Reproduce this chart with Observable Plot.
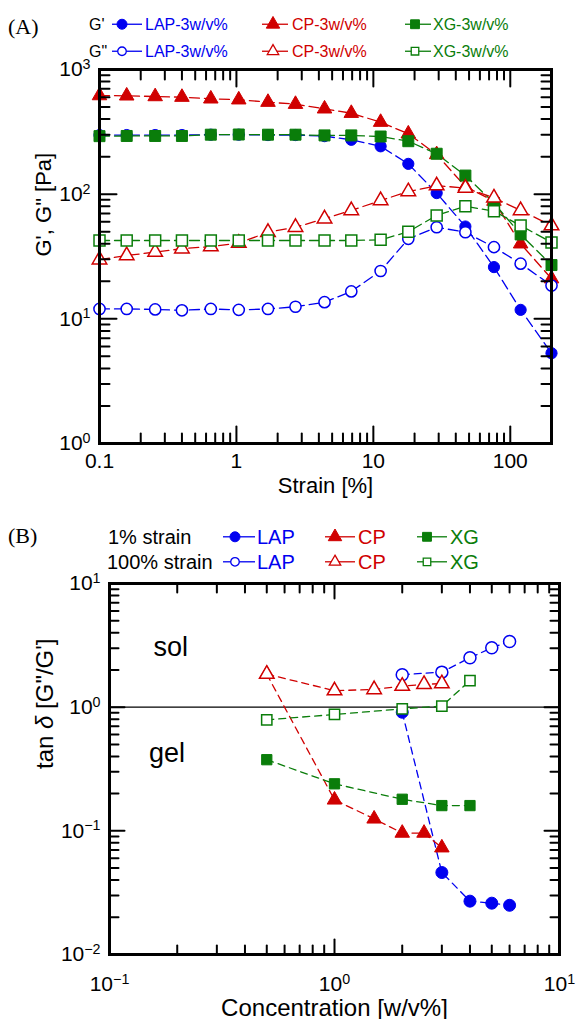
<!DOCTYPE html>
<html><head><meta charset="utf-8">
<script src="https://cdn.jsdelivr.net/npm/d3@7"></script>
<script src="https://cdn.jsdelivr.net/npm/@observablehq/plot@0.6"></script>
<style>
body{margin:0;background:#fff;}
#root{position:relative;width:576px;height:1019px;overflow:hidden;font-family:"Liberation Sans",Arial,sans-serif;background:#fff}
#root > *{position:absolute;left:0}
svg{overflow:visible}
</style></head><body><div id="root"></div>
<script>
// ---------- Panel A : strain sweep (3 w/v%) ----------
const strainA = [0.1,0.158,0.255,0.40,0.65,1.04,1.7,2.7,4.4,6.9,11.3,18,29,47,76,119,200];
const gpLAP  = [298,298,298,298,300,300,298,298,292,273,242,175,102,55,26,11.8,5.3];
const gppLAP = [12.0,12.0,11.9,11.7,12.0,11.8,12.0,12.5,13.6,16.6,24.2,43.8,54.3,49.5,37.6,27.7,18.5];
const gpCP   = [618,615,607,600,582,572,547,527,484,446,378,305,208,115,88,40,21];
const gppCP  = [29.8,32.2,34.3,36.5,38,40.5,49.5,54.3,63.5,74,89,105,117,112,93.5,74,56];
const gpXG   = [292,293,293,293,300,301,300,300,296,296,290,266,211,141,85,47.5,27];
const gppXG  = [42.5,42.5,42.5,42.5,42.5,42.5,42.5,42.5,42.5,42.5,43,50,67.5,80,73,56,41];

// ---------- Panel B : tan delta vs concentration ----------
const concLAP = [2,3,4,5,6];
const tan1LAP = [0.91,0.046,0.027,0.026,0.025];
const tan100LAP = [1.83,1.92,2.51,3.02,3.4];
const concCP = [0.5,1,1.5,2,2.5,3];
const tan1CP = [1.85,0.178,0.125,0.096,0.096,0.073];
const tan100CP = [1.85,1.36,1.39,1.48,1.53,1.55];
const concXG = [0.5,1,2,3,4];
const tan1XG = [0.376,0.24,0.18,0.16,0.16];
const tan100XG = [0.79,0.873,0.97,1.02,1.64];

const regionLabels = ["sol","gel"];
const regionX = [0.187,0.180];
const regionY = [3.07,0.42];

// ---------- ticks (labels "10^n" are typeset with a raised exponent) ----------
const strainTicks = [0.1,1,10,100];
const strainTickLabels = ["0.1","1","10","100"];
const modTicks = [1,10,100,1000];
const modTickLabels = ["10^0","10^1","10^2","10^3"];
const concTicks = [0.1,1,10];
const concTickLabels = ["10^-1","10^0","10^1"];
const tanTicks = [0.01,0.1,1,10];
const tanTickLabels = ["10^-2","10^-1","10^0","10^1"];

const seriesNames = ["LAP","CP","XG"];
const seriesColor = {LAP:"#0000f0", CP:"#d00000", XG:"#0a7d0a"};
const seriesSymbol = {LAP:"circle", CP:"triangle", XG:"square"};
const legendA = ["LAP-3w/v%","CP-3w/v%","XG-3w/v%"];
const legendB = ["LAP","CP","XG"];

const minorOf = (decades, max) => decades.flatMap(d => d3.range(2,10).map(k => +(k*d).toPrecision(3))).filter(v => v < max);

const FONT = "'Liberation Sans', Arial, sans-serif";
const root = document.getElementById("root");

// inward tick shape for Plot.vector (rotate 0 = pointing up)
const tickShape = {draw(context, l) { context.moveTo(0, 0); context.lineTo(0, -l); }};

function tickMarks(xMaj, xMin, yMaj, yMin, majLen, minLen) {
  const o = {shape: tickShape, anchor: "start", stroke: "black", strokeWidth: 2};
  const marks = [];
  for (const [ticks, len] of [[xMin, minLen], [xMaj.slice(), majLen]]) {
    marks.push(Plot.vector(ticks, {...o, x: d => d, frameAnchor: "bottom", rotate: 0, length: len}));
    marks.push(Plot.vector(ticks, {...o, x: d => d, frameAnchor: "top", rotate: 180, length: len}));
  }
  for (const [ticks, len] of [[yMin, minLen], [yMaj.slice(), majLen]]) {
    marks.push(Plot.vector(ticks, {...o, y: d => d, frameAnchor: "left", rotate: 90, length: len}));
    marks.push(Plot.vector(ticks, {...o, y: d => d, frameAnchor: "right", rotate: -90, length: len}));
  }
  return marks;
}

function seriesMarks(groups, dash, rMap) {
  const lines = [], filled = [], hollow = [];
  for (const g of groups) {
    const data = g.x.map((x, i) => ({x, y: g.y[i]}));
    const c = seriesColor[g.name];
    lines.push(Plot.line(data, {x: "x", y: "y", stroke: c, strokeWidth: 1.3, strokeDasharray: dash}));
    const dot = Plot.dot(data, {x: "x", y: "y", symbol: seriesSymbol[g.name], r: rMap[seriesSymbol[g.name]],
      fill: g.filled ? c : "white", stroke: c, strokeWidth: g.filled ? 1 : 1.5});
    (g.filled ? filled : hollow).push(dot);
  }
  return [...lines, ...filled, ...hollow];
}

// typeset "10^n" labels with raised exponent
function superscripts(svgNode) {
  d3.select(svgNode).selectAll("text").each(function () {
    const s = this.textContent;
    const m = /^(\d+)\^(-?\d+)$/.exec(s);
    if (!m) return;
    this.textContent = "";
    const t = d3.select(this);
    t.append("tspan").text(m[1]);
    t.append("tspan").attr("dy", "-0.5em").attr("font-size", "0.68em").text(m[2].replace("-", "\u2212"));
  });
}

// ---------- Legend helper ----------
function legend(top, height, panelLabel, rowLabels, rowBaselines, rowLabelX, items, textSize, markerR) {
  const svg = d3.create("svg").attr("width", 576).attr("height", height)
    .style("top", top + "px").attr("font-family", FONT);
  svg.append("text").attr("x", 8).attr("y", panelLabel.baseline).attr("font-family", "'Liberation Serif', 'Times New Roman', serif")
    .attr("font-size", 22).text(panelLabel.text);
  rowLabels.forEach((t, r) => {
    svg.append("text").attr("x", rowLabelX[r]).attr("y", rowBaselines[r]).attr("font-size", textSize).text(t);
    items.forEach((it, k) => {
      const name = seriesNames[k], c = seriesColor[name];
      const cy = rowBaselines[r] - textSize * 0.36;
      svg.append("line").attr("x1", it.x1).attr("x2", it.x2).attr("y1", cy).attr("y2", cy)
        .attr("stroke", c).attr("stroke-width", 1.3);
      const sym = {circle: d3.symbolCircle, triangle: d3.symbolTriangle, square: d3.symbolSquare}[seriesSymbol[name]];
      const rr = r === 0 ? markerR : markerR * 0.85;
      svg.append("path").attr("d", d3.symbol(sym, Math.PI * rr * rr)())
        .attr("transform", `translate(${it.mx},${cy})`)
        .attr("fill", r === 0 ? c : "white").attr("stroke", c).attr("stroke-width", r === 0 ? 1 : 1.3);
      svg.append("text").attr("x", it.tx).attr("y", rowBaselines[r]).attr("font-size", textSize)
        .attr("fill", c).text(it.label);
    });
  });
  return svg.node();
}

const dimsA = {width: 576, height: 455, marginTop: 12, marginBottom: 69, marginLeft: 99, marginRight: 25};
const dimsB = {width: 576, height: 447, marginTop: 11, marginBottom: 65, marginLeft: 109, marginRight: 17};
const scalesA = {x: {type: "log", domain: [0.1, 200], axis: null}, y: {type: "log", domain: [1, 1000], axis: null}};
const scalesB = {x: {type: "log", domain: [0.1, 10], axis: null}, y: {type: "log", domain: [0.01, 10], axis: null}};

// ---------- Plot A ----------
const plotA = Plot.plot({
  ...dimsA, ...scalesA,
  style: {fontFamily: FONT, fontSize: "20px", background: "white", overflow: "visible", color: "black"},
  marks: [
    Plot.axisX(strainTicks, {anchor: "bottom", tickSize: 0, tickPadding: 10, fontSize: 21, label: null,
      tickFormat: d => strainTickLabels[strainTicks.indexOf(d)]}),
    Plot.axisY(modTicks, {anchor: "left", tickSize: 0, tickPadding: 9, fontSize: 21, label: null,
      tickFormat: d => modTickLabels[modTicks.indexOf(d)]}),
    Plot.text(["Strain [%]"], {frameAnchor: "bottom", dy: 49, lineAnchor: "bottom", fontSize: 22}),
    Plot.text(["G', G\" [Pa]"], {frameAnchor: "left", dx: -56, rotate: -90, fontSize: 22}),
    ...seriesMarks([
      {name: "LAP", x: strainA, y: gpLAP, filled: true},
      {name: "CP", x: strainA, y: gpCP, filled: true},
      {name: "XG", x: strainA, y: gpXG, filled: true},
      {name: "LAP", x: strainA, y: gppLAP, filled: false},
      {name: "CP", x: strainA, y: gppCP, filled: false},
      {name: "XG", x: strainA, y: gppXG, filled: false}
    ], "10,5", {circle: 5.6, triangle: 5.4, square: 6.2})
  ]
});
plotA.style.top = "57px";
superscripts(plotA);

// frame and inward ticks of panel A, same scales, drawn in an overlay
const frameA = Plot.plot({
  ...dimsA, ...scalesA,
  style: {background: "transparent", overflow: "visible", color: "black"},
  marks: [
    ...tickMarks(strainTicks, minorOf([0.1,1,10,100], 200), modTicks, minorOf([1,10,100], 1000), 17, 10),
    Plot.frame({stroke: "black", strokeWidth: 3})
  ]
});
frameA.style.top = "57px";

// ---------- Plot B ----------
const plotB = Plot.plot({
  ...dimsB, ...scalesB,
  style: {fontFamily: FONT, fontSize: "20px", background: "white", overflow: "visible", color: "black"},
  marks: [
    Plot.axisX(concTicks, {anchor: "bottom", tickSize: 0, tickPadding: 22, fontSize: 21, label: null,
      tickFormat: d => concTickLabels[concTicks.indexOf(d)]}),
    Plot.axisY(tanTicks, {anchor: "left", tickSize: 0, tickPadding: 9, fontSize: 21, label: null,
      tickFormat: d => tanTickLabels[tanTicks.indexOf(d)]}),
    Plot.text(["Concentration [w/v%]"], {frameAnchor: "bottom", dy: 61, lineAnchor: "bottom", fontSize: 24}),
    Plot.text(["tan \u03b4 [G\"/G']"], {frameAnchor: "left", dx: -64, rotate: -90, fontSize: 24}),
    Plot.text(regionLabels, {x: (d, i) => regionX[i], y: (d, i) => regionY[i], text: d => d, fontSize: 27}),
    Plot.ruleY([1], {stroke: "black", strokeWidth: 1.4}),
    ...seriesMarks([
      {name: "LAP", x: concLAP, y: tan1LAP, filled: true},
      {name: "CP", x: concCP, y: tan1CP, filled: true},
      {name: "XG", x: concXG, y: tan1XG, filled: true},
      {name: "LAP", x: concLAP, y: tan100LAP, filled: false},
      {name: "CP", x: concCP, y: tan100CP, filled: false},
      {name: "XG", x: concXG, y: tan100XG, filled: false}
    ], "7,5", {circle: 6, triangle: 5.4, square: 5.8})
  ]
});
plotB.style.top = "572px";
superscripts(plotB);

const frameB = Plot.plot({
  ...dimsB, ...scalesB,
  style: {background: "transparent", overflow: "visible", color: "black"},
  marks: [
    ...tickMarks(concTicks, minorOf([0.1,1], 10), tanTicks, minorOf([0.01,0.1,1], 10), 15, 9),
    Plot.frame({stroke: "black", strokeWidth: 3})
  ]
});
frameB.style.top = "572px";

// italic delta in the y label of panel B
d3.select(plotB).selectAll("text").each(function () {
  if (this.textContent === "tan \u03b4 [G\"/G']") {
    this.textContent = "";
    const t = d3.select(this);
    t.append("tspan").text("tan ");
    t.append("tspan").attr("font-style", "italic").text("\u03b4");
    t.append("tspan").text(" [G\"/G']");
  }
});

// ---------- assemble ----------
root.appendChild(plotA);
root.appendChild(frameA);
root.appendChild(plotB);
root.appendChild(frameB);
root.appendChild(legend(0, 57, {text: "(A)", baseline: 34}, ["G'", "G\""], [30, 57], [89, 89],
  [{x1: 112, x2: 142, mx: 122, tx: 145, label: legendA[0]},
   {x1: 262, x2: 288, mx: 273, tx: 292, label: legendA[1]},
   {x1: 405, x2: 431, mx: 415, tx: 433, label: legendA[2]}], 16, 5));
root.appendChild(legend(512, 60, {text: "(B)", baseline: 31}, ["1% strain", "100% strain"], [32, 57], [108, 107],
  [{x1: 223, x2: 255, mx: 235, tx: 257, label: legendB[0]},
   {x1: 325, x2: 355, mx: 335, tx: 358, label: legendB[1]},
   {x1: 417, x2: 447, mx: 427, tx: 450, label: legendB[2]}], 20, 5));
</script>
</body></html>
